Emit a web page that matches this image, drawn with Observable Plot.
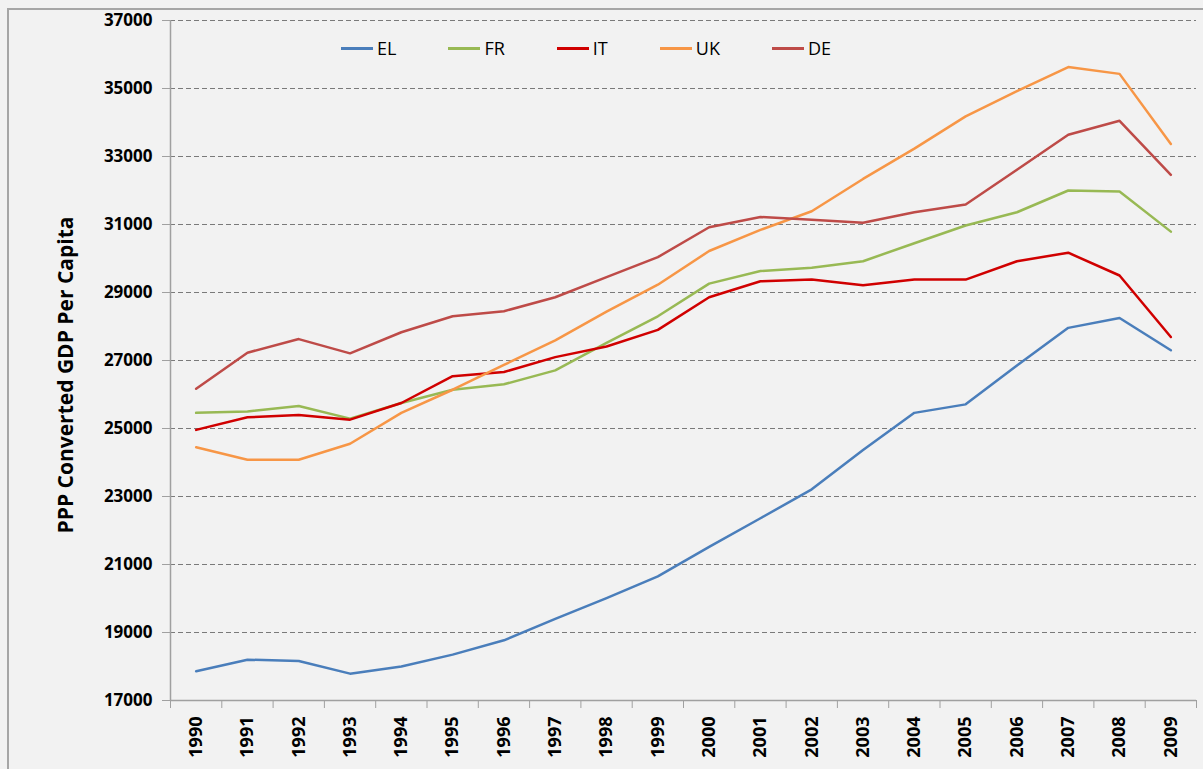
<!DOCTYPE html>
<html>
<head>
<meta charset="utf-8">
<script src="https://cdn.jsdelivr.net/npm/d3@7"></script>
<script src="https://cdn.jsdelivr.net/npm/@observablehq/plot@0.6"></script>
<style>
  html, body { margin: 0; padding: 0; background: #F2F2F2; overflow: hidden; }
  #wrap { position: relative; width: 1203px; height: 769px; }
  #frame { position: absolute; left: 7px; top: 8px; width: 1400px; height: 1000px; border: 2px solid #A6A6A6; box-sizing: border-box; pointer-events: none; }
  #ytitle { position: absolute; left: 65px; top: 375px; transform: translate(-50%, -50%) rotate(-90deg); white-space: nowrap;
            font: bold 21px "Open Sans", sans-serif; color: #000; }
  #legend { position: absolute; left: 341px; top: 36px; display: flex; align-items: center; font: 18px "Open Sans", sans-serif; color: #000; }
  #legend .item { display: flex; align-items: center; margin-right: 52px; }
  #legend .sw { display: inline-block; width: 32px; height: 3px; margin-right: 4px; }
  svg { position: absolute; left: 0; top: 0; }
</style>
</head>
<body>
<div id="wrap">
  <div id="frame"></div>
</div>
<script>
const years = [1990,1991,1992,1993,1994,1995,1996,1997,1998,1999,2000,2001,2002,2003,2004,2005,2006,2007,2008,2009];
const countries = ["EL","FR","IT","UK","DE"];
const colors = ["#4A7EBB","#98B954","#D00000","#F79646","#BE4B48"];
const EL = [17860,18200,18160,17790,18000,18350,18770,19400,20010,20650,21520,22360,23210,24370,25460,25710,26850,27960,28250,27300];
const FR = [25460,25500,25660,25290,25750,26140,26300,26710,27520,28300,29260,29630,29730,29920,30450,30970,31360,32000,31970,30790];
const IT = [24960,25330,25400,25260,25750,26540,26660,27100,27410,27900,28860,29330,29380,29210,29380,29380,29920,30170,29500,27690];
const UK = [24450,24080,24080,24550,25460,26140,26870,27590,28440,29230,30220,30840,31390,32340,33230,34180,34920,35630,35430,33370];
const DE = [26170,27230,27630,27210,27830,28300,28450,28860,29450,30040,30920,31220,31140,31050,31360,31590,32610,33640,34050,32460];
const yTicks = [17000,19000,21000,23000,25000,27000,29000,31000,33000,35000,37000];
const yTitle = "PPP Converted GDP Per Capita";

const seriesValues = {EL, FR, IT, UK, DE};
const rows = countries.flatMap(c => years.map((yr, i) => ({country: c, year: yr, value: seriesValues[c][i]})));
const boundaries = years.map(y => y - 0.5).concat([years[years.length - 1] + 0.5]);

const chart = Plot.plot({
  width: 1203,
  height: 769,
  marginTop: 20,
  marginLeft: 170,
  marginRight: 7,
  marginBottom: 69,
  style: {background: "transparent", fontFamily: "'Open Sans', sans-serif", overflow: "visible"},
  x: {type: "linear", domain: [boundaries[0], boundaries[boundaries.length - 1]]},
  y: {domain: [yTicks[0], yTicks[yTicks.length - 1]]},
  color: {domain: countries, range: colors},
  marks: [
    Plot.gridY(yTicks, {stroke: "#7A7A7A", strokeOpacity: 1, strokeDasharray: "5,3", strokeWidth: 1}),
    Plot.ruleX([boundaries[0]], {stroke: "#A0A0A0", strokeWidth: 1.5}),
    Plot.ruleY([yTicks[0]], {stroke: "#A0A0A0", strokeWidth: 1.5}),
    Plot.axisY(yTicks, {tickSize: 8, tickPadding: 10, stroke: "#A0A0A0", fill: "#000", fontSize: 17, fontWeight: "bold", tickFormat: d => String(d), label: null}),
    Plot.axisX(boundaries, {tickSize: 8, stroke: "#A0A0A0", tickFormat: () => "", label: null}),
    Plot.axisX(years, {tickSize: 0, tickPadding: 16, tickRotate: -90, fill: "#000", fontSize: 18, fontWeight: "bold", tickFormat: d => String(d), label: null}),
    Plot.line(rows, {x: "year", y: "value", z: "country", stroke: "country", strokeWidth: 2.5, strokeLinejoin: "round"})
  ]
});
const wrap = document.getElementById("wrap");
wrap.appendChild(chart);

const t = document.createElement("div");
t.id = "ytitle";
t.textContent = yTitle;
wrap.appendChild(t);

const lg = document.createElement("div");
lg.id = "legend";
countries.forEach((c, i) => {
  const it = document.createElement("div");
  it.className = "item";
  const sw = document.createElement("span");
  sw.className = "sw";
  sw.style.background = colors[i];
  const lb = document.createElement("span");
  lb.textContent = c;
  it.appendChild(sw); it.appendChild(lb);
  lg.appendChild(it);
});
wrap.appendChild(lg);
</script>
</body>
</html>
